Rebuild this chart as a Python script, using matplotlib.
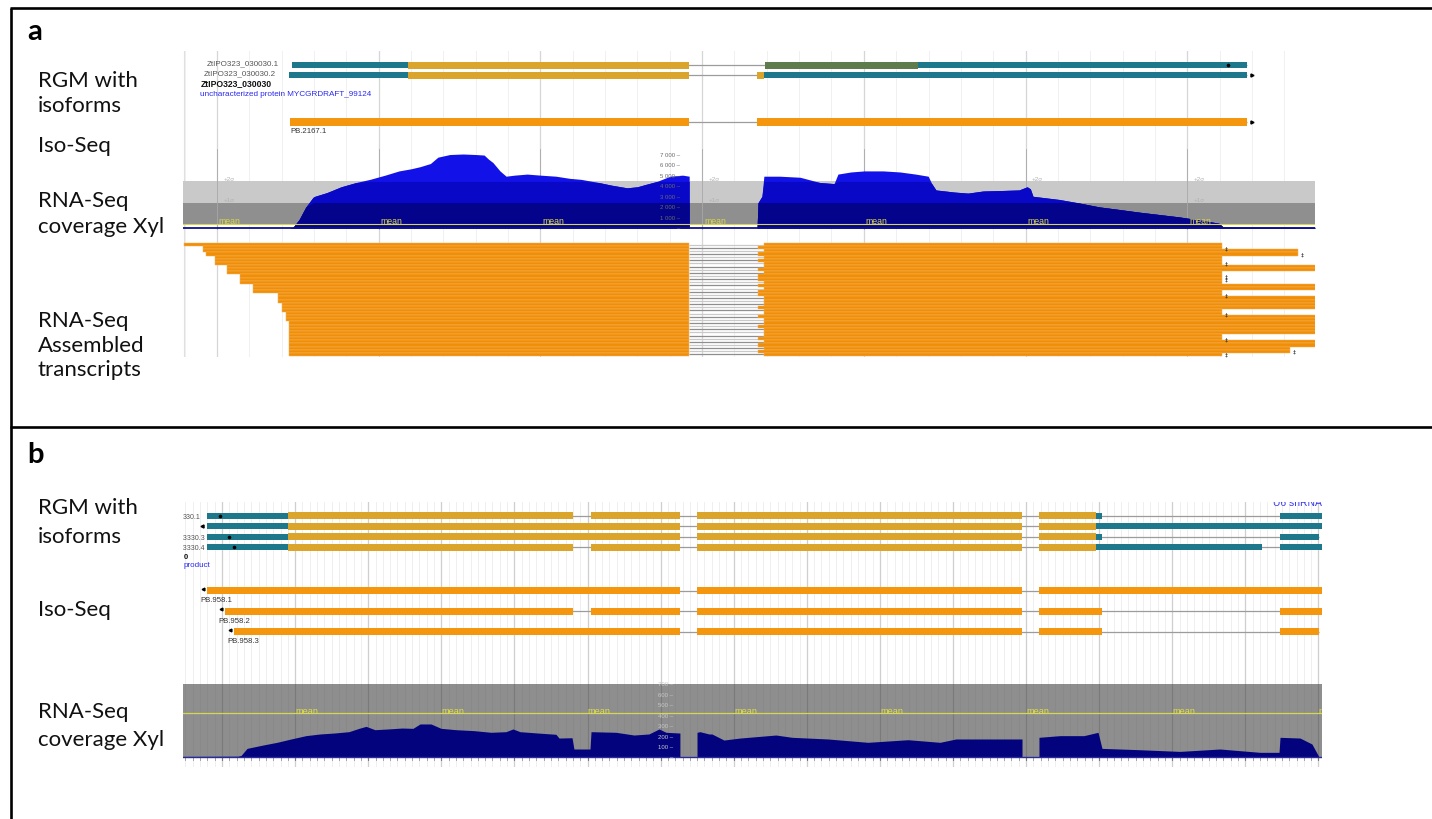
import numpy as np
import matplotlib
matplotlib.use("Agg")
import matplotlib.pyplot as plt

# ====================== DATA ======================
PANEL_LETTERS = ["a", "b"]
A_SIDE_LABELS = ["RGM with", "isoforms", "Iso-Seq", "RNA-Seq", "coverage Xyl",
                 "RNA-Seq", "Assembled", "transcripts"]
B_SIDE_LABELS = ["RGM with", "isoforms", "Iso-Seq", "RNA-Seq", "coverage Xyl"]

# ---- panel a (genomic positions, bp) ----
A_WINDOW = [395, 3895]
A_GRID_MAJOR = [500, 1000, 1500, 2000, 2500, 3000, 3500]
A_GRID_MINOR_STEP = 100
A_RGM_IDS = ["ZtIPO323_030030.1", "ZtIPO323_030030.2"]
A_RGM_GENE = "ZtIPO323_030030"
A_RGM_DESC = "uncharacterized protein MYCGRDRAFT_99124"
A_RGM_SEGMENTS = [
    [(732, 1091, "utr"), (1091, 1960, "cds"), (2194, 2668, "mix"), (2668, 3685, "utr")],
    [(723, 1091, "utr"), (1091, 1960, "cds"), (2170, 2191, "cds"), (2191, 3685, "utr")],
]
A_ISO_IDS = ["PB.2167.1"]
A_ISO_EXONS = [[(726, 1960), (2170, 3685)]]

A_COV_POS = [726, 735, 754, 775, 797, 803, 840, 884, 930, 973, 1020, 1063, 1100, 1128,
             1160, 1183, 1220, 1261, 1300, 1326, 1340, 1353, 1375, 1394, 1420, 1459,
             1500, 1548, 1590, 1626, 1681, 1720, 1768, 1800, 1823, 1860, 1901, 1940,
             1960, 1960, 2170, 2173, 2185, 2191, 2240, 2303, 2340, 2365, 2408, 2420,
             2460, 2501, 2560, 2612, 2660, 2699, 2710, 2723, 2780, 2822, 2869, 2930,
             2980, 3005, 3015, 3023, 3104, 3160, 3227, 3290, 3351, 3420, 3475, 3540,
             3598, 3611, 3650, 3895]
A_COV_VAL = [0, 60, 800, 2000, 2900, 3000, 3350, 3900, 4300, 4600, 5000, 5400, 5600, 5800,
             6100, 6700, 6950, 7000, 6950, 6900, 6500, 6200, 5400, 4900, 5000, 5100,
             5000, 4900, 4700, 4600, 4300, 4050, 3800, 3900, 4100, 4400, 4900, 5000,
             4900, 0, 0, 2400, 3000, 4900, 4900, 4800, 4500, 4300, 4200, 5100,
             5300, 5400, 5400, 5300, 5100, 4900, 4200, 3600, 3400, 3300, 3500, 3550,
             3600, 3900, 3700, 3000, 2700, 2400, 2000, 1750, 1500, 1250, 1050, 750,
             450, 100, 80, 60]
A_COV_MEAN = 400
A_COV_SD = 2000
A_COV_TICKS = [0, 1000, 2000, 3000, 4000, 5000, 6000, 7000]

A_ASM_START = [398, 457, 457, 466, 494, 494, 494, 531, 531, 531, 571, 571, 571,
               611, 611, 611, 689, 689, 689, 701, 701, 701, 713, 713, 713,
               723, 723, 723, 723, 723, 723, 723, 723, 723, 723, 723]
A_ASM_EXON1_END = 1960
A_ASM_EXON2_START = [2191, 2173, 2191, 2173, 2191, 2173, 2191, 2191, 2173, 2191, 2173, 2173,
                     2191, 2173, 2191, 2173, 2173, 2191, 2191, 2191, 2173, 2191, 2191, 2173,
                     2191, 2191, 2173, 2191, 2191, 2191, 2173, 2191, 2173, 2191, 2173, 2191]
A_ASM_END = [3608, 3608, 3843, 3843, 3608, 3608, 3608, 3950, 3950, 3608, 3608, 3608,
             3608, 3950, 3950, 3608, 3608, 3950, 3950, 3950, 3950, 3608, 3608, 3950,
             3950, 3950, 3950, 3950, 3950, 3608, 3608, 3950, 3950, 3818, 3818, 3608]
A_ASM_MARKED = [1, 3, 6, 10, 11, 16, 22, 30, 34, 35]

# ---- panel b (genomic positions, bp) ----
B_WINDOW = [233, 8024]
B_GRID_MAJOR = [500, 1000, 1500, 2000, 2500, 3000, 3500, 4000, 4500, 5000, 5500,
                6000, 6500, 7000, 7500, 8000]
B_GRID_MINOR_STEP = 50
# visible (cut-off) parts of the transcript names at the left edge of the view
B_RGM_IDS_VISIBLE = ["330.1", "", "13330.3", "013330.4"]
B_RGM_GENE_VISIBLE = "0"
B_RGM_DESC = "product"
B_RGM_SEGMENTS = [
    [(397, 951, "utr"), (951, 2901, "cds"), (3024, 3632, "cds"), (3749, 5972, "cds"),
     (6088, 6478, "cds"), (6478, 6519, "utr"), (7737, 8037, "utr")],
    [(397, 951, "utr"), (951, 3632, "cds"), (3749, 5972, "cds"), (6088, 6478, "cds"),
     (6478, 8030, "utr")],
    [(397, 951, "utr"), (951, 3632, "cds"), (3749, 5972, "cds"), (6088, 6478, "cds"),
     (6478, 6519, "utr"), (7737, 8003, "utr")],
    [(397, 951, "utr"), (951, 2901, "cds"), (3024, 3632, "cds"), (3749, 5972, "cds"),
     (6088, 6478, "cds"), (6478, 7614, "utr"), (7737, 8037, "utr")],
]
B_NEIGHBOUR = "U6 snRNA"
B_ISO_IDS = ["PB.958.1", "PB.958.2", "PB.958.3"]
B_ISO_EXONS = [
    [(397, 3632), (3749, 5972), (6088, 8037)],
    [(520, 2901), (3024, 3632), (3749, 5972), (6088, 6519), (7737, 8037)],
    [(582, 3632), (3749, 5972), (6088, 6519), (7737, 8003)],
]
B_COV_POS = [233, 609, 630, 671, 780, 876, 972, 1074, 1170, 1266, 1368, 1437, 1485, 1546,
             1635, 1731, 1806, 1854, 1929, 1998, 2100, 2223, 2340, 2442, 2490, 2538, 2661,
             2784, 2805, 2894, 2907, 3017, 3024, 3195, 3318, 3420, 3489, 3537, 3632, 3632,
             3749, 3749, 3769, 3831, 3851, 3933, 4043, 4289, 4399, 4645, 4918, 5192, 5411,
             5520, 5958, 5972, 5972, 6088, 6088, 6232, 6396, 6492, 6519, 6779, 7052, 7326,
             7600, 7730, 7737, 7874, 7955, 8003, 8024]
B_COV_VAL = [6, 8, 15, 83, 115, 141, 173, 205, 221, 230, 243, 275, 294, 262,
             269, 278, 275, 317, 317, 275, 262, 253, 237, 243, 269, 243, 230,
             218, 182, 185, 77, 77, 243, 237, 211, 221, 269, 237, 230, 0,
             0, 237, 243, 221, 221, 163, 182, 211, 189, 173, 141, 166, 141,
             173, 173, 173, 0, 0, 189, 205, 205, 237, 83, 70, 54, 77,
             45, 45, 189, 182, 125, 2, 0]
B_COV_MEAN = 420
B_COV_TOP = 700
B_COV_TICKS = [0, 100, 200, 300, 400, 500, 600, 700]

# ====================== STYLE / LAYOUT ======================
W, H = 1432, 820
TEAL = "#1e788c"
GOLD = "#daa52a"
OLIVE = "#5f7d4c"
ISO = "#f5960f"
ASM = "#f08e08"
SEG_COL = {"utr": TEAL, "cds": GOLD, "mix": OLIVE}
BFONT = ["Liberation Sans", "DejaVu Sans"]
LFONT = ["Lato", "DejaVu Sans"]

fig = plt.figure(figsize=(W / 100, H / 100), dpi=100)


def add_ax(x0, y0, x1, y1, xlim, ylim):
    ax = fig.add_axes([x0 / W, 1 - y1 / H, (x1 - x0) / W, (y1 - y0) / H])
    ax.set_xlim(*xlim)
    ax.set_ylim(*ylim)
    ax.axis("off")
    return ax


# ---------- frame and side labels ----------
frame = add_ax(0, 0, W, H, (0, W), (H, 0))
frame.plot([11.3, 11.3], [8.7, H + 5], color="black", lw=1.9, solid_capstyle="butt")
frame.plot([10, W + 5], [8.7, 8.7], color="black", lw=1.9, solid_capstyle="butt")
frame.plot([10, W + 5], [427.5, 427.5], color="black", lw=1.9, solid_capstyle="butt")
frame.text(27, 40, PANEL_LETTERS[0], fontsize=21, fontweight="bold", family=LFONT, va="baseline")
frame.text(27, 463, PANEL_LETTERS[1], fontsize=21, fontweight="bold", family=LFONT, va="baseline")
a_base = [87, 112, 152, 207, 233, 327, 352, 376]
for t, yb in zip(A_SIDE_LABELS, a_base):
    frame.text(38, yb, t, fontsize=16, family=LFONT, va="baseline", color="#111111")
b_base = [514, 543, 616, 718, 746]
for t, yb in zip(B_SIDE_LABELS, b_base):
    frame.text(38, yb, t, fontsize=16, family=LFONT, va="baseline", color="#111111")


def grid(ax, window, majors, step, cmaj, cmin):
    for g in np.arange(np.ceil(window[0] / step) * step, window[1], step):
        ax.axvline(g, color=cmin, lw=0.6, zorder=0)
    for g in majors:
        ax.axvline(g, color=cmaj, lw=0.9, zorder=0.5)


def transcript(ax, y, segs, h_cds, h_utr):
    s = min(a for a, b, k in segs)
    e = max(b for a, b, k in segs)
    ax.plot([s, e], [y, y], color="#9c9c9c", lw=0.9, zorder=2, solid_capstyle="butt")
    for a, b, k in segs:
        h = h_utr if k == "utr" else h_cds
        ax.barh(y, b - a, left=a, height=h, color=SEG_COL[k], edgecolor="none", zorder=3)


def iso(ax, y, exons, h):
    ax.plot([exons[0][0], exons[-1][1]], [y, y], color="#9c9c9c", lw=0.9, zorder=2,
            solid_capstyle="butt")
    for a, b in exons:
        ax.barh(y, b - a, left=a, height=h, color=ISO, edgecolor="none", zorder=3)


# =================== PANEL A ===================
bg_a = add_ax(183, 52, 1315, 358, A_WINDOW, (0, 1))
grid(bg_a, A_WINDOW, A_GRID_MAJOR, A_GRID_MINOR_STEP, "#d6d6d6", "#eeeeee")
bg_a.axvline(A_WINDOW[0] + 2, color="#e0e0e0", lw=0.8)

# coverage a
cov_a = add_ax(183, 150, 1315, 231, A_WINDOW, (-189, 7473))
m, sd = A_COV_MEAN, A_COV_SD
cov_a.axhspan(m, m + sd, color="#8f8f8f", zorder=1, lw=0)
cov_a.axhspan(m + sd, m + 2 * sd, color="#c9c9c9", zorder=1, lw=0)
for g in A_GRID_MAJOR:
    cov_a.axvline(g, color="#a8a8a8", lw=0.6, zorder=1.5)
    cov_a.text(g + 20, m + 2 * sd + 150, "+2\u03c3", fontsize=4.5, color="#b0b0b0",
               family=BFONT, va="baseline", zorder=1.6)
    cov_a.text(g + 20, m + sd + 150, "+1\u03c3", fontsize=4.5, color="#b0b0b0",
               family=BFONT, va="baseline", zorder=1.6)
pos = np.array(A_COV_POS, float)
val = np.array(A_COV_VAL, float)
cov_a.fill_between(pos, 0, val, color="#1212e8", lw=0, zorder=3)
cov_a.fill_between(pos, 0, np.minimum(val, m + 2 * sd), color="#0808c6", lw=0, zorder=3.1)
cov_a.fill_between(pos, 0, np.minimum(val, m + sd), color="#03038c", lw=0, zorder=3.2)
cov_a.axhline(0, color="#10108a", lw=1.3, zorder=3.3)
cov_a.axhline(m, color="#d6d650", lw=0.8, zorder=4)
for g in A_GRID_MAJOR:
    cov_a.text(g + 6, m + 70, "mean", fontsize=6.3, color="#d8d84a", family=BFONT,
               va="baseline", zorder=5, clip_on=True)
for v in A_COV_TICKS:
    lab = ("{:,}".format(v).replace(",", " ") + " \u2013") if v else "\u2013"
    cov_a.text(1932, v, lab, fontsize=4.3, color="#6a6a6a", family=BFONT,
               ha="right", va="center", zorder=6)

# tracks a (y in layout pixels)
trk_a = add_ax(183, 52, 1315, 358, A_WINDOW, (358, 52))
for (y, segs) in zip([66, 76], A_RGM_SEGMENTS):
    transcript(trk_a, y, segs, 7, 5.5)
for (y, name, segs) in zip([63.5, 73.5], A_RGM_IDS, A_RGM_SEGMENTS):
    trk_a.text(segs[0][0] - 40, y + 1.5, name, fontsize=5.8, color="#555555",
               family=BFONT, ha="right", va="baseline")
trk_a.text(A_WINDOW[0] + 56, 86.5, A_RGM_GENE, fontsize=6.2, fontweight="bold",
           color="#111111", family=BFONT, ha="left", va="baseline")
trk_a.text(A_WINDOW[0] + 53, 95.5, A_RGM_DESC, fontsize=5.9,
           color="#2a2aee", family=BFONT, ha="left", va="baseline")
trk_a.plot([3626], [66], marker="o", ms=1.6, color="black", zorder=4)
trk_a.plot([A_RGM_SEGMENTS[1][-1][1] + 16], [76], marker=">", ms=2.2, color="black", zorder=4)

for (y, name, ex) in zip([123], A_ISO_IDS, A_ISO_EXONS):
    iso(trk_a, y, ex, 8)
    trk_a.plot([ex[-1][1] + 16], [y], marker=">", ms=2.2, color="black", zorder=4)
    trk_a.text(ex[0][0], y + 10, name, fontsize=5.6, color="#333333", family=BFONT,
               ha="left", va="baseline")

# assembled transcripts
n_rows = len(A_ASM_START)
row_h = (357 - 244) / n_rows
for i in range(n_rows):
    y = 244 + (i + 0.5) * row_h
    s2 = A_ASM_EXON2_START[i]
    trk_a.plot([A_ASM_EXON1_END, s2], [y, y], color="#8e8e8e" if i % 2 else "#c9c9c9",
               lw=0.9, zorder=2, solid_capstyle="butt")
    trk_a.barh(y, A_ASM_EXON1_END - A_ASM_START[i], left=A_ASM_START[i], height=row_h,
               color=ASM, edgecolor="#f6b45e", linewidth=0.35, zorder=3)
    trk_a.barh(y, A_ASM_END[i] - s2, left=s2, height=row_h,
               color=ASM, edgecolor="#f6b45e", linewidth=0.35, zorder=3)
for i in A_ASM_MARKED:
    y = 244 + (i + 0.5) * row_h
    trk_a.text(A_ASM_END[i] + 8, y, "\u2021", fontsize=4.2, color="#222222",
               family=["DejaVu Sans"], ha="left", va="center", zorder=5)

# =================== PANEL B ===================
bg_b = add_ax(183, 503, 1322, 768, B_WINDOW, (0, 1))
grid(bg_b, B_WINDOW, B_GRID_MAJOR, B_GRID_MINOR_STEP, "#cfcfcf", "#ececec")

cov_b = add_ax(183, 685, 1322, 762, B_WINDOW, (-38, B_COV_TOP))
cov_b.axhspan(0, B_COV_TOP, color="#8e8e8e", lw=0, zorder=1)
for g in np.arange(np.ceil(B_WINDOW[0] / B_GRID_MINOR_STEP) * B_GRID_MINOR_STEP,
                   B_WINDOW[1], B_GRID_MINOR_STEP):
    cov_b.axvline(g, color="#878787", lw=0.5, zorder=1.2)
for g in B_GRID_MAJOR:
    cov_b.axvline(g, color="#7a7a7a", lw=0.8, zorder=1.3)
posb = np.array(B_COV_POS, float)
valb = np.array(B_COV_VAL, float)
cov_b.fill_between(posb, 0, valb, color="#03037e", lw=0, zorder=3)
cov_b.axhline(0, color="#2a2a9a", lw=1.0, zorder=3.2)
cov_b.axhline(B_COV_MEAN, color="#d6d650", lw=0.9, zorder=4)
for g in B_GRID_MAJOR[1::2]:
    cov_b.text(g + 2, B_COV_MEAN + 5, "mean", fontsize=6.6, color="#dede4a",
               family=BFONT, va="baseline", zorder=5, clip_on=True)
for v in B_COV_TICKS:
    lab = ("{} \u2013".format(v)) if v else "\u2013"
    cov_b.text(3585, v, lab, fontsize=4.3, color="#c8c8c8", family=BFONT,
               ha="right", va="center", zorder=6)

trk_b = add_ax(183, 503, 1322, 768, B_WINDOW, (768, 503))
rows_b = [517, 527.5, 538, 548.5]
for y, segs in zip(rows_b, B_RGM_SEGMENTS):
    transcript(trk_b, y, segs, 7, 6)
label_right = [-48, -48, -10, -10]
for y, name, segs, off in zip(rows_b, B_RGM_IDS_VISIBLE, B_RGM_SEGMENTS, label_right):
    if name:
        trk_b.text(segs[0][0] + off, y + 2, name, fontsize=5.0, color="#555555",
                   family=BFONT, ha="right", va="baseline", clip_on=True)
trk_b.text(B_WINDOW[0] + 2, 559, B_RGM_GENE_VISIBLE, fontsize=5.5, fontweight="bold",
           color="#111111", family=BFONT, ha="left", va="baseline", clip_on=True)
trk_b.text(B_WINDOW[0] + 2, 567, B_RGM_DESC, fontsize=5.8, color="#2a2aee",
           family=BFONT, ha="left", va="baseline", clip_on=True)
trk_b.text(7690, 506.5, B_NEIGHBOUR, fontsize=7.5, color="#3a3aee", family=BFONT,
           ha="left", va="baseline", clip_on=True)
for x, y in zip([486, 548, 582], [517, 538, 548.5]):
    trk_b.plot([x], [y], marker="o", ms=1.6, color="black", zorder=4)
trk_b.plot([363], [527.5], marker="<", ms=2.2, color="black", zorder=4)

rows_bi = [592, 612.5, 633]
for y, name, ex in zip(rows_bi, B_ISO_IDS, B_ISO_EXONS):
    iso(trk_b, y, ex, 7)
    trk_b.plot([ex[0][0] - 30], [y - 2], marker="<", ms=2.0, color="black", zorder=4)
    trk_b.text(ex[0][0] - 48, y + 10.5, name, fontsize=5.6, color="#333333",
               family=BFONT, ha="left", va="baseline")

fig.savefig("out.png", dpi=100)
